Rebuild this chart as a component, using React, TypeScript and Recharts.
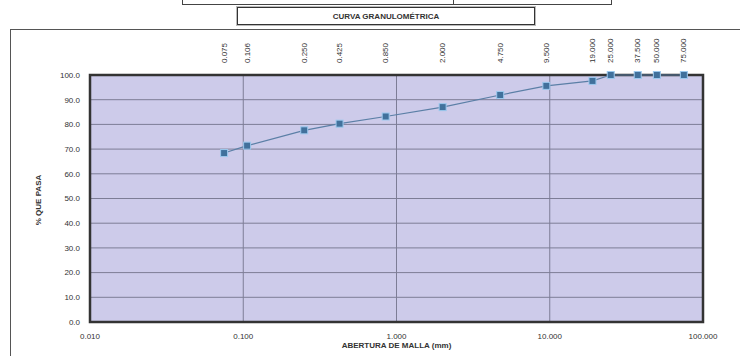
import React from 'react';
import {
  LineChart, Line, XAxis, YAxis, CartesianGrid, ReferenceArea
} from 'recharts';

// sieve openings (mm) and % passing
const aberturas = [0.075, 0.106, 0.25, 0.425, 0.85, 2, 4.75, 9.5, 19, 25, 37.5, 50, 75];
const pasa = [68.4, 71.4, 77.6, 80.3, 83.2, 87.0, 91.9, 95.6, 97.6, 100, 100, 100, 100];
const xTicks = [0.01, 0.1, 1, 10, 100];
const yTicks = [0, 10, 20, 30, 40, 50, 60, 70, 80, 90, 100];

const data = aberturas.map((a, i) => ({ abertura: a, pasa: pasa[i] }));

const FONT = '"Liberation Sans Narrow", "Liberation Sans", Arial, sans-serif';

const SquareDot = (props: any) => {
  const { cx, cy, index } = props;
  if (cx == null || cy == null) return null;
  return (
    <rect
      key={`sq-${index}`}
      x={cx - 3.5}
      y={cy - 3.5}
      width={7}
      height={7}
      fill="#41719c"
      stroke="#9cc9ee"
      strokeWidth={1}
    />
  );
};

const TopTick = (props: any) => {
  const { x, y, payload } = props;
  return (
    <text
      transform={`translate(${x},${y}) rotate(-90)`}
      textAnchor="start"
      dominantBaseline="central"
      fontSize={8}
      fontFamily={FONT}
      fill="#333"
    >
      {Number(payload.value).toFixed(3)}
    </text>
  );
};

const App: React.FC = () => {
  return (
    <div style={{ position: 'absolute', left: 0, top: 0, width: 740, height: 356, overflow: 'hidden', background: '#fff' }}>
      {/* cut-off box above the title */}
      <div style={{ position: 'absolute', left: 182, top: -20, width: 428, height: 23, border: '1px solid #444' }} />
      <div style={{ position: 'absolute', left: 453, top: -20, width: 0, height: 24, borderLeft: '1px solid #444' }} />
      {/* title box */}
      <div
        style={{
          position: 'absolute', left: 237, top: 7, width: 296, height: 16,
          border: '1.5px solid #333', boxShadow: '0 0 0 1px #bbb',
          fontFamily: FONT, fontSize: 8, fontWeight: 'bold', color: '#333',
          display: 'flex', alignItems: 'center', justifyContent: 'center'
        }}
      >
        CURVA GRANULOMÉTRICA
      </div>
      {/* outer chart frame */}
      <div style={{ position: 'absolute', left: 10, top: 29, width: 760, height: 400, border: '1.5px solid #555' }} />
      {/* y axis title */}
      <div
        style={{
          position: 'absolute', left: 38, top: 200, transform: 'translate(-50%, -50%) rotate(-90deg)',
          fontFamily: FONT, fontSize: 8, fontWeight: 'bold', color: '#333', whiteSpace: 'nowrap'
        }}
      >
        % QUE PASA
      </div>
      <div style={{ position: 'absolute', left: 0, top: 0 }}>
        <LineChart
          width={740}
          height={356}
          data={data}
          margin={{ top: 25, right: 37, bottom: 8, left: 50 }}
        >
          <CartesianGrid
            stroke="#7d7d96"
            strokeWidth={1}
            fill="#cdcbea"
            fillOpacity={1}
          />
          <XAxis
            dataKey="abertura"
            type="number"
            scale="log"
            domain={[0.01, 100]}
            ticks={xTicks}
            interval={0}
            allowDataOverflow
            height={26}
            tickLine={false}
            axisLine={false}
            tickMargin={5}
            tick={{ fontSize: 8, fontFamily: FONT, fill: '#333' }}
            tickFormatter={(v: number) => v.toFixed(3)}
            label={{ value: 'ABERTURA DE MALLA (mm)', position: 'insideBottom', offset: 0, fontSize: 8, fontFamily: FONT, fill: '#333', fontWeight: 'bold' }}
          />
          <XAxis
            xAxisId="top"
            orientation="top"
            dataKey="abertura"
            type="number"
            scale="log"
            domain={[0.01, 100]}
            ticks={aberturas}
            interval={0}
            allowDataOverflow
            height={50}
            tickLine={false}
            axisLine={false}
            tickSize={0}
            tickMargin={12}
            tick={<TopTick />}
          />
          <YAxis
            type="number"
            domain={[0, 100]}
            ticks={yTicks}
            interval={0}
            width={40}
            tickLine={false}
            axisLine={false}
            tickMargin={4}
            tick={{ fontSize: 8, fontFamily: FONT, fill: '#333' }}
            tickFormatter={(v: number) => v.toFixed(1)}
          />
          <ReferenceArea
            x1={0.01}
            x2={100}
            y1={0}
            y2={100}
            fill="none"
            stroke="#333"
            strokeWidth={2.5}
            ifOverflow="visible"
          />
          <Line
            xAxisId="top"
            dataKey="pasa"
            stroke="none"
            dot={false}
            activeDot={false}
            isAnimationActive={false}
          />
          <Line
            dataKey="pasa"
            stroke="#5b7fa6"
            strokeWidth={1.2}
            dot={<SquareDot />}
            activeDot={false}
            isAnimationActive={false}
          />
        </LineChart>
      </div>
    </div>
  );
};

export default App;
